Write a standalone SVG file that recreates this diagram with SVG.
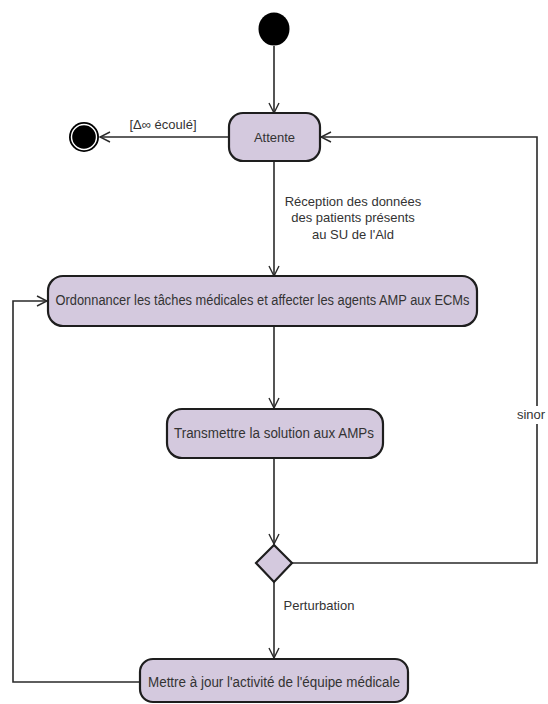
<svg xmlns="http://www.w3.org/2000/svg" width="548" height="704" viewBox="0 0 548 704">
<style>
.box{fill:#d4c9de;stroke:#1e1e1e;stroke-width:2.2}
.ln{fill:none;stroke:#2a2a2a;stroke-width:1.6}
.t{font-family:"Liberation Sans",Arial,sans-serif;font-size:13px;fill:#333;text-anchor:middle}
</style>
<defs>
<marker id="ah" viewBox="0 0 12 12" refX="11" refY="6" markerWidth="12" markerHeight="12" markerUnits="userSpaceOnUse" orient="auto">
<path d="M1,1 L11,6 L1,11" fill="none" stroke="#2a2a2a" stroke-width="1.4"/>
</marker>
</defs>
<rect width="548" height="704" fill="#fff"/>
<g id="connectors">
<line class="ln" x1="274" y1="46" x2="274" y2="113" marker-end="url(#ah)"/>
<line class="ln" x1="229" y1="137" x2="100" y2="137" marker-end="url(#ah)"/>
<text class="t" x="163" y="129">[Δ∞ écoulé]</text>
<line class="ln" x1="274" y1="161" x2="274" y2="276" marker-end="url(#ah)"/>
<text class="t" x="353" y="206">Réception des données</text>
<text class="t" x="353" y="222">des patients présents</text>
<text class="t" x="353" y="239">au SU de l'Ald</text>
<line class="ln" x1="274" y1="326" x2="274" y2="408" marker-end="url(#ah)"/>
<line class="ln" x1="274" y1="458" x2="274" y2="544" marker-end="url(#ah)"/>
<polyline class="ln" points="292,563 537,563 537,137 321,137" marker-end="url(#ah)"/>
<rect x="514" y="406" width="32" height="18" fill="#fff"/>
<text class="t" x="531" y="419">sinor</text>
<line class="ln" x1="274" y1="582" x2="274" y2="658" marker-end="url(#ah)"/>
<text class="t" x="319" y="610">Perturbation</text>
<polyline class="ln" points="140,682 13,682 13,301 47,301" marker-end="url(#ah)"/>
</g>
<g id="start">
<ellipse cx="274" cy="29" rx="15.5" ry="16.5" fill="#000"/>
</g>
<g id="end">
<circle cx="84" cy="137" r="15" fill="#000"/>
<circle cx="84" cy="137" r="12.5" fill="none" stroke="#fff" stroke-width="1.4"/>
</g>
<g id="attente">
<rect class="box" x="229" y="113" width="91" height="48" rx="14"/>
<text class="t" x="274.5" y="142">Attente</text>
</g>
<g id="ordonnancer">
<rect class="box" x="48" y="276" width="429" height="50" rx="15"/>
<text class="t" x="262.5" y="305" textLength="414" lengthAdjust="spacingAndGlyphs" style="font-size:14px">Ordonnancer les tâches médicales et affecter les agents AMP aux ECMs</text>
</g>
<g id="transmettre">
<rect class="box" x="167" y="409" width="216" height="49" rx="15"/>
<text class="t" x="274" y="438" textLength="200" lengthAdjust="spacingAndGlyphs" style="font-size:14px">Transmettre la solution aux AMPs</text>
</g>
<g id="decision">
<polygon class="box" points="274,545 292,563 274,582 256,563"/>
</g>
<g id="mettre">
<rect class="box" x="140" y="659" width="268" height="43" rx="13"/>
<text class="t" x="274" y="687" textLength="252" lengthAdjust="spacingAndGlyphs" style="font-size:14px">Mettre à jour l'activité de l'équipe médicale</text>
</g>
</svg>
